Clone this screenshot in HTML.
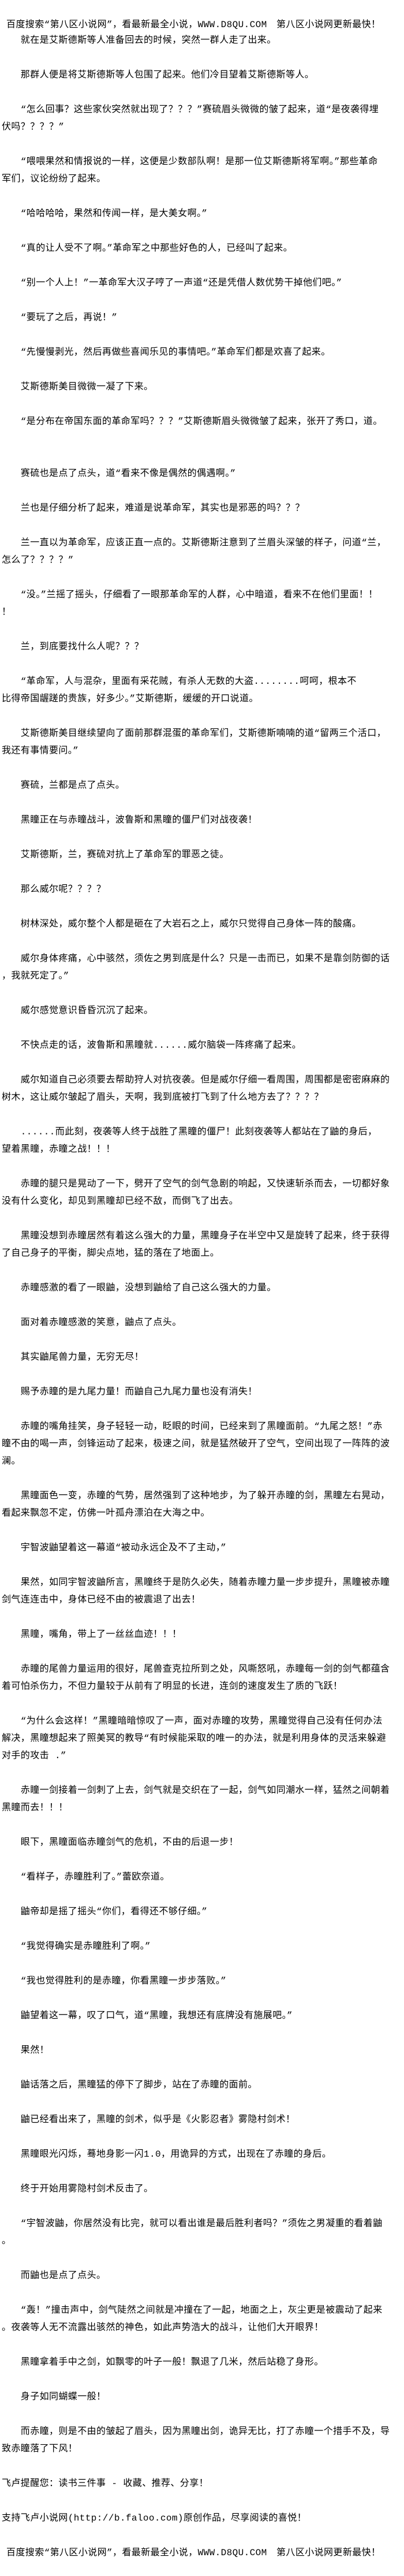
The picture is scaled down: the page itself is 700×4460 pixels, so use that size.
<!DOCTYPE html>
<html>
<head>
<meta charset="utf-8">
<style>
html,body{margin:0;padding:0;background:#fff;}
body{width:700px;height:4460px;overflow:hidden;position:relative;
font-family:"Liberation Mono","Noto Sans CJK SC",monospace;font-size:16px;color:#000;}
#hd{position:absolute;left:11px;top:28px;height:27px;line-height:30px;white-space:nowrap;letter-spacing:0.4px;}
#tx{position:absolute;left:3px;top:55px;width:697px;line-height:30px;white-space:nowrap;letter-spacing:0.4px;}
</style>
</head>
<body>
<div id="hd">百度搜索“第八区小说网”，看最新最全小说，WWW.D8QU.COM　第八区小说网更新最快！</div>
<div id="tx">
　　就在是艾斯德斯等人准备回去的时候，突然一群人走了出来。<br><br>
　　那群人便是将艾斯德斯等人包围了起来。他们冷目望着艾斯德斯等人。<br><br>
　　“怎么回事？这些家伙突然就出现了？？？”赛硫眉头微微的皱了起来，道“是夜袭得埋<br>伏吗？？？？”<br><br>
　　“喂喂果然和情报说的一样，这便是少数部队啊！是那一位艾斯德斯将军啊。”那些革命<br>军们，议论纷纷了起来。<br><br>
　　“哈哈哈哈，果然和传闻一样，是大美女啊。”<br><br>
　　“真的让人受不了啊。”革命军之中那些好色的人，已经叫了起来。<br><br>
　　“别一个人上！”一革命军大汉子哼了一声道“还是凭借人数优势干掉他们吧。”<br><br>
　　“要玩了之后，再说！”<br><br>
　　“先慢慢剥光，然后再做些喜闻乐见的事情吧。”革命军们都是欢喜了起来。<br><br>
　　艾斯德斯美目微微一凝了下来。<br><br>
　　“是分布在帝国东面的革命军吗？？？”艾斯德斯眉头微微皱了起来，张开了秀口，道。<br><br><br>
　　赛硫也是点了点头，道“看来不像是偶然的偶遇啊。”<br><br>
　　兰也是仔细分析了起来，难道是说革命军，其实也是邪恶的吗？？？<br><br>
　　兰一直以为革命军，应该正直一点的。艾斯德斯注意到了兰眉头深皱的样子，问道“兰，<br>怎么了？？？？”<br><br>
　　“没。”兰摇了摇头，仔细看了一眼那革命军的人群，心中暗道，看来不在他们里面！！<br>！<br><br>
　　兰，到底要找什么人呢？？？<br><br>
　　“革命军，人与混杂，里面有采花贼，有杀人无数的大盗........呵呵，根本不<br>比得帝国龌蹉的贵族，好多少。”艾斯德斯，缓缓的开口说道。<br><br>
　　艾斯德斯美目继续望向了面前那群混蛋的革命军们，艾斯德斯喃喃的道“留两三个活口，<br>我还有事情要问。”<br><br>
　　赛硫，兰都是点了点头。<br><br>
　　黑瞳正在与赤瞳战斗，波鲁斯和黑瞳的僵尸们对战夜袭！<br><br>
　　艾斯德斯，兰，赛硫对抗上了革命军的罪恶之徒。<br><br>
　　那么威尔呢？？？？<br><br>
　　树林深处，威尔整个人都是砸在了大岩石之上，威尔只觉得自己身体一阵的酸痛。<br><br>
　　威尔身体疼痛，心中骇然，须佐之男到底是什么？只是一击而已，如果不是靠剑防御的话<br>，我就死定了。”<br><br>
　　威尔感觉意识昏昏沉沉了起来。<br><br>
　　不快点走的话，波鲁斯和黑瞳就......威尔脑袋一阵疼痛了起来。<br><br>
　　威尔知道自己必须要去帮助狩人对抗夜袭。但是威尔仔细一看周围，周围都是密密麻麻的<br>树木，这让威尔皱起了眉头，天啊，我到底被打飞到了什么地方去了？？？？<br><br>
　　......而此刻，夜袭等人终于战胜了黑瞳的僵尸！此刻夜袭等人都站在了鼬的身后，<br>望着黑瞳，赤瞳之战！！！<br><br>
　　赤瞳的腿只是晃动了一下，劈开了空气的剑气急剧的响起，又快速斩杀而去，一切都好象<br>没有什么变化，却见到黑瞳却已经不敌，而倒飞了出去。<br><br>
　　黑瞳没想到赤瞳居然有着这么强大的力量，黑瞳身子在半空中又是旋转了起来，终于获得<br>了自己身子的平衡，脚尖点地，猛的落在了地面上。<br><br>
　　赤瞳感激的看了一眼鼬，没想到鼬给了自己这么强大的力量。<br><br>
　　面对着赤瞳感激的笑意，鼬点了点头。<br><br>
　　其实鼬尾兽力量，无穷无尽！<br><br>
　　赐予赤瞳的是九尾力量！而鼬自己九尾力量也没有消失！<br><br>
　　赤瞳的嘴角挂笑，身子轻轻一动，眨眼的时间，已经来到了黑瞳面前。“九尾之怒！”赤<br>瞳不由的喝一声，剑锋运动了起来，极速之间，就是猛然破开了空气，空间出现了一阵阵的波<br>澜。<br><br>
　　黑瞳面色一变，赤瞳的气势，居然强到了这种地步，为了躲开赤瞳的剑，黑瞳左右晃动，<br>看起来飘忽不定，仿佛一叶孤舟漂泊在大海之中。<br><br>
　　宇智波鼬望着这一幕道“被动永远企及不了主动，”<br><br>
　　果然，如同宇智波鼬所言，黑瞳终于是防久必失，随着赤瞳力量一步步提升，黑瞳被赤瞳<br>剑气连连击中，身体已经不由的被震退了出去！<br><br>
　　黑瞳，嘴角，带上了一丝丝血迹！！！<br><br>
　　赤瞳的尾兽力量运用的很好，尾兽查克拉所到之处，风嘶怒吼，赤瞳每一剑的剑气都蕴含<br>着可怕杀伤力，不但力量较于从前有了明显的长进，连剑的速度发生了质的飞跃！<br><br>
　　“为什么会这样！”黑瞳暗暗惊叹了一声，面对赤瞳的攻势，黑瞳觉得自己没有任何办法<br>解决，黑瞳想起来了照美冥的教导“有时候能采取的唯一的办法，就是利用身体的灵活来躲避<br>对手的攻击 .”<br><br>
　　赤瞳一剑接着一剑刺了上去，剑气就是交织在了一起，剑气如同潮水一样，猛然之间朝着<br>黑瞳而去！！！<br><br>
　　眼下，黑瞳面临赤瞳剑气的危机，不由的后退一步！<br><br>
　　“看样子，赤瞳胜利了。”蕾欧奈道。<br><br>
　　鼬帝却是摇了摇头“你们，看得还不够仔细。”<br><br>
　　“我觉得确实是赤瞳胜利了啊。”<br><br>
　　“我也觉得胜利的是赤瞳，你看黑瞳一步步落败。”<br><br>
　　鼬望着这一幕，叹了口气，道“黑瞳，我想还有底牌没有施展吧。”<br><br>
　　果然！<br><br>
　　鼬话落之后，黑瞳猛的停下了脚步，站在了赤瞳的面前。<br><br>
　　鼬已经看出来了，黑瞳的剑术，似乎是《火影忍者》雾隐村剑术！<br><br>
　　黑瞳眼光闪烁，蓦地身影一闪1.0，用诡异的方式，出现在了赤瞳的身后。<br><br>
　　终于开始用雾隐村剑术反击了。<br><br>
　　“宇智波鼬，你居然没有比完，就可以看出谁是最后胜利者吗？”须佐之男凝重的看着鼬<br>。<br><br>
　　而鼬也是点了点头。<br><br>
　　“轰！”撞击声中，剑气陡然之间就是冲撞在了一起，地面之上，灰尘更是被震动了起来<br>。夜袭等人无不流露出骇然的神色，如此声势浩大的战斗，让他们大开眼界！<br><br>
　　黑瞳拿着手中之剑，如飘零的叶子一般！飘退了几米，然后站稳了身形。<br><br>
　　身子如同蝴蝶一般！<br><br>
　　而赤瞳，则是不由的皱起了眉头，因为黑瞳出剑，诡异无比，打了赤瞳一个措手不及，导<br>致赤瞳落了下风！<br><br>
飞卢提醒您：读书三件事 - 收藏、推荐、分享！<br><br>
支持飞卢小说网(http://b.faloo.com)原创作品，尽享阅读的喜悦！<br><br>
<span style="padding-left:8px">百度搜索“第八区小说网”，看最新最全小说，WWW.D8QU.COM　第八区小说网更新最快！</span><br>
</div>
</body>
</html>
